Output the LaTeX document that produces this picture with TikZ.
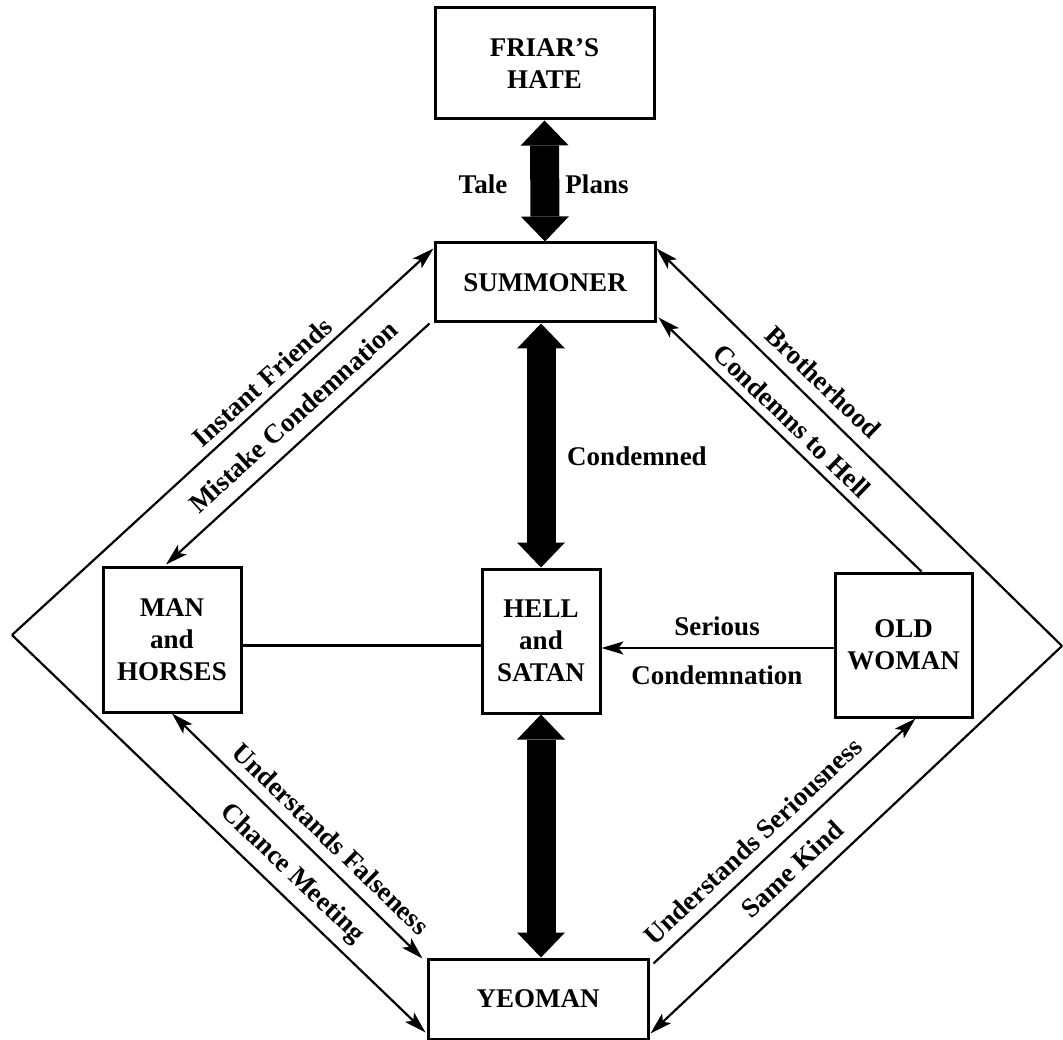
\documentclass[tikz,border=0pt]{standalone}
\usepackage{fontspec}
\setmainfont{Liberation Serif}
\usetikzlibrary{arrows.meta,calc}
\begin{document}
\begin{tikzpicture}[x=1pt,y=-1pt,
  txt/.style={font=\bfseries\fontsize{27}{32}\selectfont},
  box/.style={txt, draw, line width=3pt, align=center, inner sep=0pt, fill=white},
  lbl/.style={txt, inner sep=1pt},
  conn/.style={line width=2.2pt, -{Stealth[length=22pt,width=13pt,inset=5pt]}},
  twoway/.style={line width=2.2pt, {Stealth[length=22pt,width=13pt,inset=5pt]}-{Stealth[length=22pt,width=13pt,inset=5pt]}},
  plain/.style={line width=2.2pt},
  fat/.style={line width=29pt, {Triangle[length=25pt,width=48pt,line width=0pt]}-{Triangle[length=25pt,width=48pt,line width=0pt]}}
]
\fill[white] (0,0) rectangle (1063,1040);
\useasboundingbox (0,0) rectangle (1063,1040);

% boxes
\node[box, minimum width=219pt, minimum height=111pt] (fh) at (544.5,63.5) {FRIAR’S\\HATE};
\node[box, minimum width=220pt, minimum height=79pt] (sm) at (545,282.5) {SUMMONER};
\node[box, minimum width=138pt, minimum height=145pt] (mh) at (172,639.5) {MAN\\and\\HORSES};
\node[box, minimum width=118pt, minimum height=144pt] (hs) at (541,641) {HELL\\and\\SATAN};
\node[box, minimum width=137pt, minimum height=144pt] (ow) at (903.5,645) {OLD\\WOMAN};
\node[box, minimum width=220pt, minimum height=80pt] (ym) at (538,999) {YEOMAN};

% diamond vertices
\coordinate (L) at (12,635);
\coordinate (R) at (1062,646);

% thick double arrows
\draw[fat] (fh.south) -- (sm.north);
\draw[fat] (hs.north |- sm.south) -- (hs.north);
\draw[fat] (hs.south) -- (hs.south |- ym.north);

% horizontal links
\draw[plain] ([yshift=-6pt]mh.east) -- ([yshift=-6pt]mh.east -| hs.west);
\draw[conn] ([yshift=-3pt]ow.west) -- ([yshift=-3pt]ow.west -| hs.east);

% upper left
\draw[conn] (L) -- ($(sm.north west)+(0,7)$);
\draw[conn] ($(sm.south west)+(-4,0)$) -- ($(mh.north)+(-6,-1)$);
% upper right
\draw[conn] (R) -- ($(sm.north east)+(0,7)$);
\draw[conn] ($(ow.north)+(18,0)$) -- ($(sm.south east)+(2,-6)$);
% lower left
\draw[twoway] (mh.south) -- ($(ym.north west)+(-4,1)$);
\draw[conn] (L) -- ($(ym.south west)+(-1,-8)$);
% lower right
\draw[conn] ($(ym.north east)+(4,6)$) -- ($(ow.south)+(12,0)$);
\draw[conn] (R) -- ($(ym.south east)+(1,-7)$);

% labels
\node[lbl] (tale) at (483,184) {Tale};
\node[lbl] (plans) at (597,184) {Plans};
\node[lbl] (cond) at (637,456) {Condemned};
\node[lbl] (ser) at (717,626) {Serious};
\node[lbl] (sercond) at (717,675) {Condemnation};
\node[lbl, rotate=42.3] (inst) at (262,382) {Instant Friends};
\node[lbl, rotate=42.3] (mist) at (293,417) {Mistake Condemnation};
\node[lbl, rotate=-44] (broth) at (823,382) {Brotherhood};
\node[lbl, rotate=-44] (cth) at (792,421) {Condemns to Hell};
\node[lbl, rotate=-44] (uf) at (331,839) {Understands Falseness};
\node[lbl, rotate=-43.7] (cm) at (292,874) {Chance Meeting};
\node[lbl, rotate=43.3] (us) at (753,841) {Understands Seriousness};
\node[lbl, rotate=43] (sk) at (792,869) {Same Kind};
\end{tikzpicture}
\end{document}
